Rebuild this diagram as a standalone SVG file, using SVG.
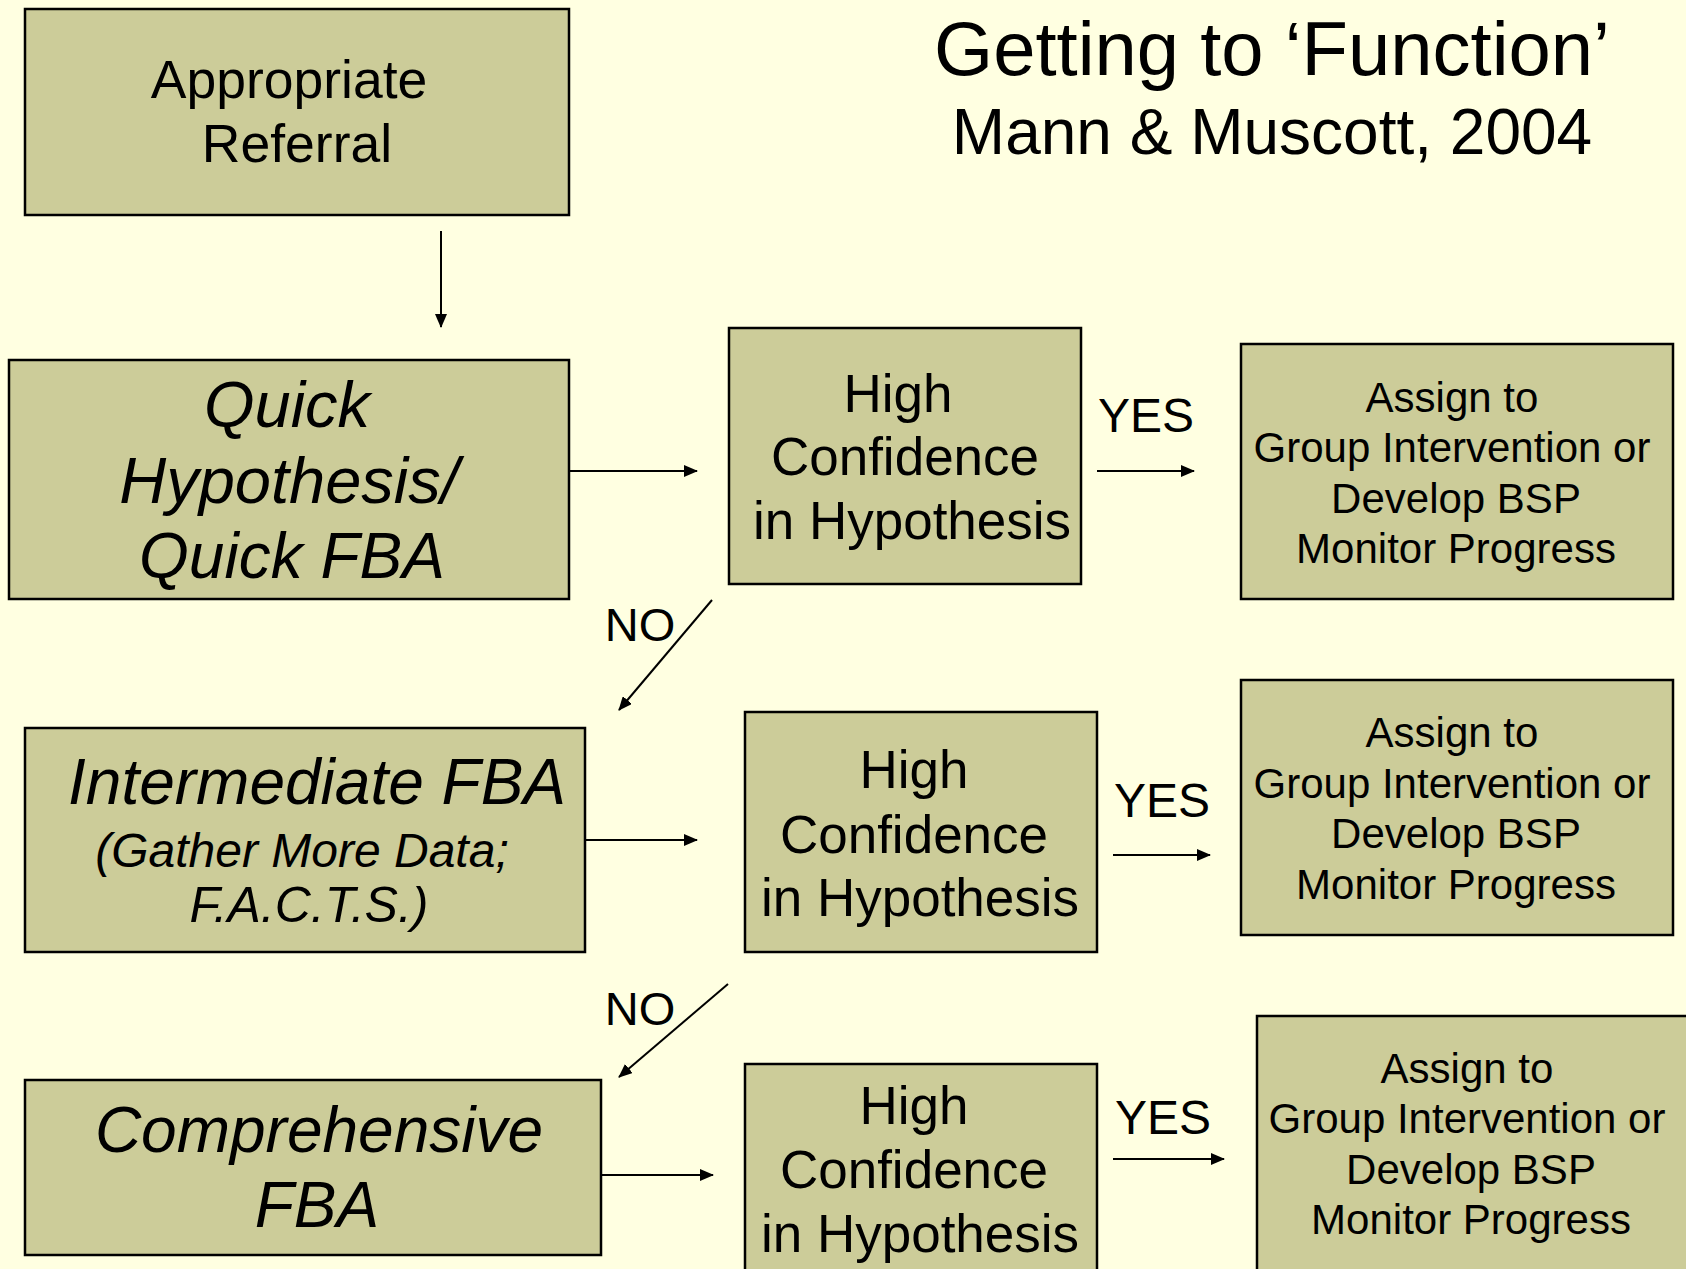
<svg xmlns="http://www.w3.org/2000/svg" width="1686" height="1269" viewBox="0 0 1686 1269">
<style>
.bx{fill:#CCCC99;stroke:#000;stroke-width:2.5}
.t{font-family:"Liberation Sans",Arial,sans-serif;fill:#000;text-anchor:middle}
.i{font-style:italic}
.cn{stroke:#000;stroke-width:2;fill:none}
</style>
<defs>
<marker id="ah" markerUnits="userSpaceOnUse" markerWidth="14" markerHeight="12" refX="13" refY="6" orient="auto">
<path d="M0,0 L14,6 L0,12 z" fill="#000"/>
</marker>
</defs>
<rect width="1686" height="1269" fill="#FFFFE1"/>

<g id="title">
<text class="t" x="1272" y="75" font-size="76">Getting to ‘Function’</text>
<text class="t" x="1272" y="154" font-size="64">Mann &amp; Muscott, 2004</text>
</g>

<g id="referral">
<rect class="bx" x="25" y="9" width="544" height="206"/>
<text class="t" x="289" y="98" font-size="53.5">Appropriate</text>
<text class="t" x="297" y="162" font-size="53.5">Referral</text>
</g>

<g id="quick">
<rect class="bx" x="9" y="360" width="560" height="239"/>
<text class="t i" x="287" y="427" font-size="65">Quick</text>
<text class="t i" x="289" y="503" font-size="65">Hypothesis/</text>
<text class="t i" x="292" y="578" font-size="64">Quick FBA</text>
</g>

<g id="hc1">
<rect class="bx" x="729" y="328" width="352" height="256"/>
<text class="t" x="898" y="412" font-size="53">High</text>
<text class="t" x="905" y="475" font-size="53">Confidence</text>
<text class="t" x="912" y="539" font-size="53">in Hypothesis</text>
</g>

<g id="assign1">
<rect class="bx" x="1241" y="344" width="432" height="255"/>
<text class="t" x="1452" y="412" font-size="42">Assign to</text>
<text class="t" x="1452" y="462" font-size="42">Group Intervention or</text>
<text class="t" x="1456" y="513" font-size="42">Develop BSP</text>
<text class="t" x="1456" y="563" font-size="42">Monitor Progress</text>
</g>

<g id="intermediate">
<rect class="bx" x="25" y="728" width="560" height="224"/>
<text class="t i" x="317" y="804" font-size="64">Intermediate FBA</text>
<text class="t i" x="302" y="867" font-size="48">(Gather More Data;</text>
<text class="t i" x="309" y="922" font-size="50">F.A.C.T.S.)</text>
</g>

<g id="hc2">
<rect class="bx" x="745" y="712" width="352" height="240"/>
<text class="t" x="914" y="788" font-size="53">High</text>
<text class="t" x="914" y="853" font-size="53">Confidence</text>
<text class="t" x="920" y="916" font-size="53">in Hypothesis</text>
</g>

<g id="assign2">
<rect class="bx" x="1241" y="680" width="432" height="255"/>
<text class="t" x="1452" y="747" font-size="42">Assign to</text>
<text class="t" x="1452" y="798" font-size="42">Group Intervention or</text>
<text class="t" x="1456" y="848" font-size="42">Develop BSP</text>
<text class="t" x="1456" y="899" font-size="42">Monitor Progress</text>
</g>

<g id="comprehensive">
<rect class="bx" x="25" y="1080" width="576" height="175"/>
<text class="t i" x="319" y="1152" font-size="64">Comprehensive</text>
<text class="t i" x="317" y="1227" font-size="64">FBA</text>
</g>

<g id="hc3">
<rect class="bx" x="745" y="1064" width="352" height="220"/>
<text class="t" x="914" y="1124" font-size="53">High</text>
<text class="t" x="914" y="1188" font-size="53">Confidence</text>
<text class="t" x="920" y="1252" font-size="53">in Hypothesis</text>
</g>

<g id="assign3">
<rect class="bx" x="1257" y="1016" width="440" height="270"/>
<text class="t" x="1467" y="1083" font-size="42">Assign to</text>
<text class="t" x="1467" y="1133" font-size="42">Group Intervention or</text>
<text class="t" x="1471" y="1184" font-size="42">Develop BSP</text>
<text class="t" x="1471" y="1234" font-size="42">Monitor Progress</text>
</g>

<g id="connectors">
<line class="cn" x1="441" y1="231" x2="441" y2="327" marker-end="url(#ah)"/>
<line class="cn" x1="569" y1="471" x2="697" y2="471" marker-end="url(#ah)"/>
<line class="cn" x1="1097" y1="471" x2="1194" y2="471" marker-end="url(#ah)"/>
<line class="cn" x1="712" y1="600" x2="619" y2="710" marker-end="url(#ah)"/>
<line class="cn" x1="585" y1="840" x2="697" y2="840" marker-end="url(#ah)"/>
<line class="cn" x1="1113" y1="855" x2="1210" y2="855" marker-end="url(#ah)"/>
<line class="cn" x1="728" y1="984" x2="619" y2="1077" marker-end="url(#ah)"/>
<line class="cn" x1="601" y1="1175" x2="713" y2="1175" marker-end="url(#ah)"/>
<line class="cn" x1="1113" y1="1159" x2="1224" y2="1159" marker-end="url(#ah)"/>
<text class="t" x="1146" y="432" font-size="48">YES</text>
<text class="t" x="1162" y="817" font-size="48">YES</text>
<text class="t" x="1163" y="1134" font-size="48">YES</text>
<text class="t" x="640" y="641" font-size="47">NO</text>
<text class="t" x="640" y="1025" font-size="47">NO</text>
</g>
</svg>
